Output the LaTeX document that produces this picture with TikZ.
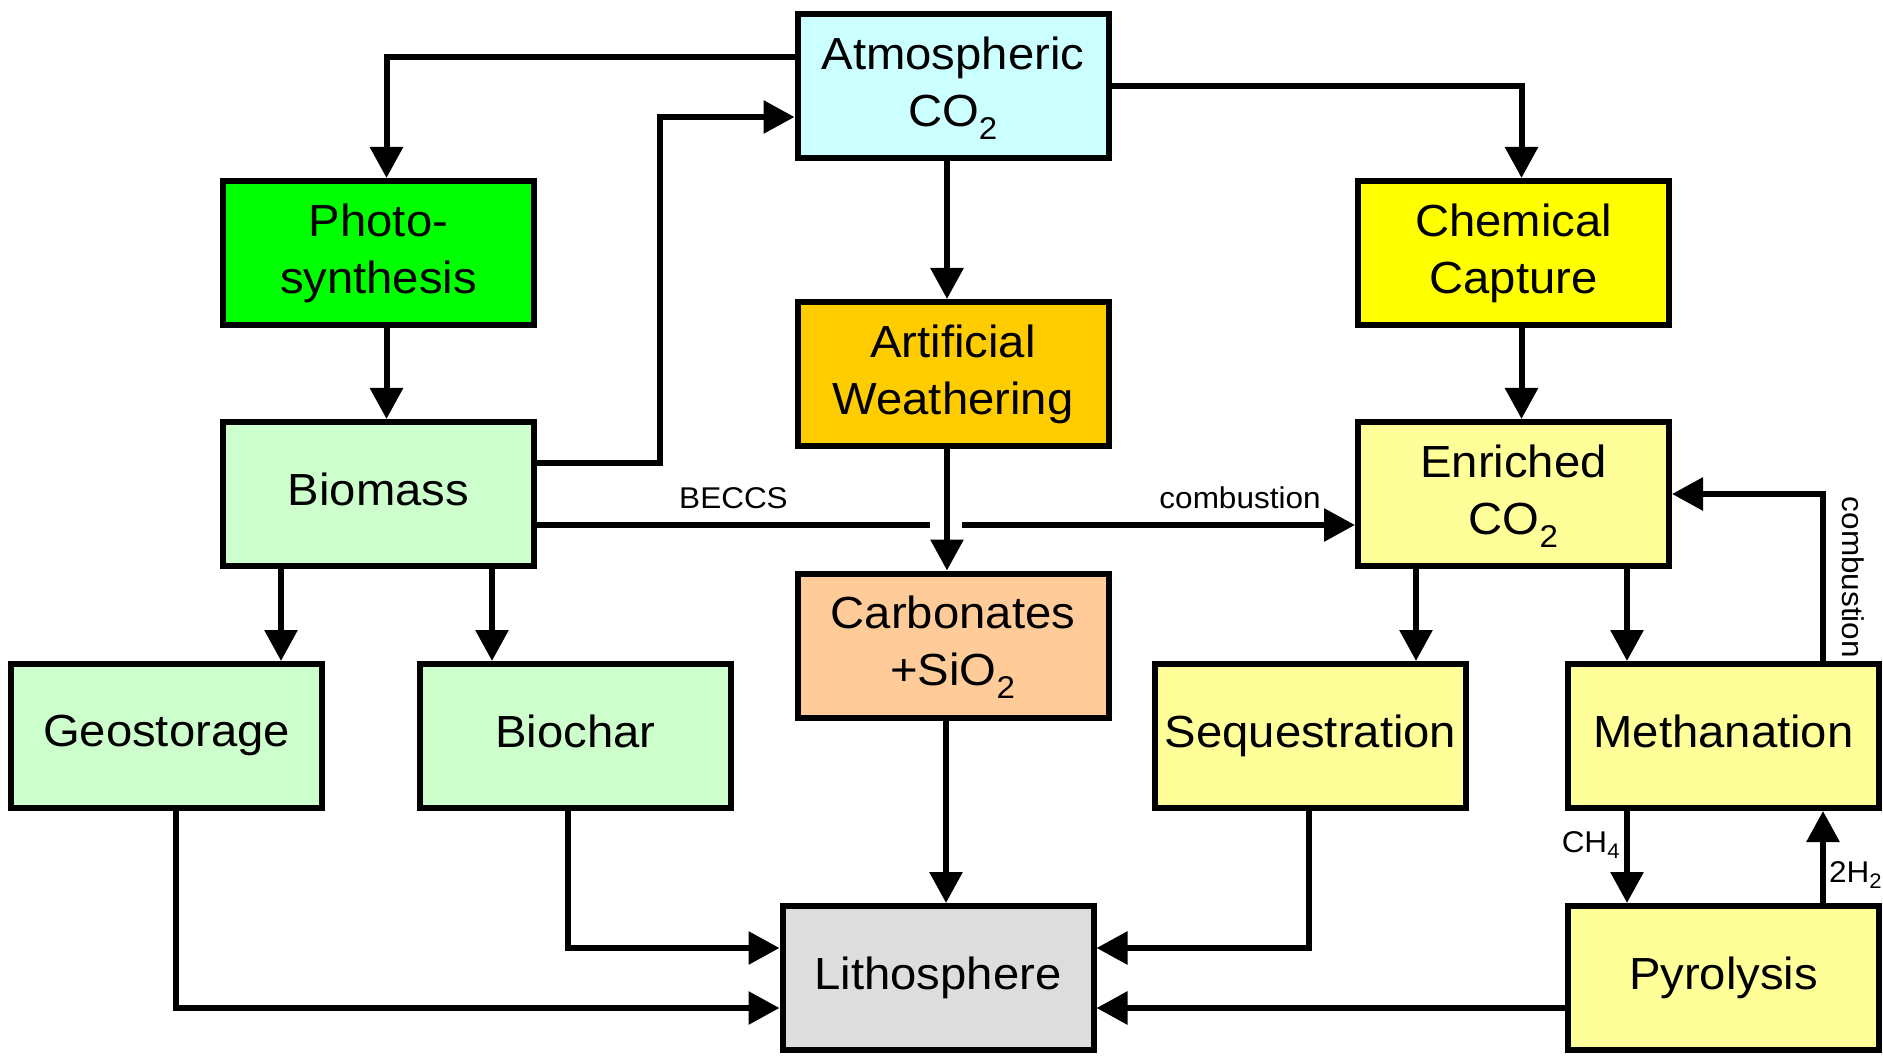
\documentclass[tikz,border=0pt]{standalone}
\usepackage{fontspec}
\setmainfont[FakeStretch=1.05]{Liberation Sans}
\usetikzlibrary{positioning, arrows.meta, calc}
\definecolor{atmcyan}{HTML}{CCFFFF}
\definecolor{photogreen}{HTML}{00FF00}
\definecolor{chemyellow}{HTML}{FFFF00}
\definecolor{weathorange}{HTML}{FFCC00}
\definecolor{biogreen}{HTML}{CCFFCC}
\definecolor{paleyellow}{HTML}{FFFF99}
\definecolor{carbpeach}{HTML}{FFCC99}
\definecolor{lithogray}{HTML}{DDDDDD}

\begin{document}
\begin{tikzpicture}[
    x=1pt, y=-1pt,
    box/.style={
        draw, rectangle, line width=6pt,
        minimum width=311pt, minimum height=144pt,
        inner sep=2pt, align=center, text depth=9.5pt,
        font=\fontsize{45pt}{57pt}\selectfont
    },
    smalltext/.style={font=\fontsize{30pt}{36pt}\selectfont, inner sep=0pt},
    link/.style={line width=6pt},
    arrow/.style={-{Triangle[length=31pt, width=32pt]}, line width=6pt},
]
\useasboundingbox (0,0) rectangle (1883,1056);

% boxes
\node[box, fill=atmcyan] (atm) at (953,86) {Atmospheric\\CO\textsubscript{2}};
\node[box, fill=photogreen] (photo) at (378.5,253) {Photo-\\synthesis};
\node[box, fill=chemyellow] (chem) at (1513.5,253) {Chemical\\Capture};
\node[box, fill=weathorange] (weath) at (953,374) {Artificial\\Weathering};
\node[box, fill=biogreen] (biomass) at (378.5,494) {Biomass};
\node[box, fill=paleyellow] (enriched) at (1513.5,494) {Enriched\\CO\textsubscript{2}};
\node[box, fill=carbpeach] (carb) at (953,645.5) {Carbonates\\+SiO\textsubscript{2}};
\node[box, fill=biogreen] (geo) at (166.5,736) {Geostorage};
\node[box, fill=biogreen] (biochar) at (575.5,736) {Biochar};
\node[box, fill=paleyellow] (seq) at (1310.5,736) {Sequestration};
\node[box, fill=paleyellow] (meth) at (1723.5,736) {Methanation};
\node[box, fill=lithogray] (litho) at (938,978) {Lithosphere};
\node[box, fill=paleyellow] (pyro) at (1723.5,978) {Pyrolysis};

\coordinate (gapL) at (930,525);
\coordinate (gapR) at (962,525);

% upper part
\draw[arrow] ($(atm.west)+(0,-29)$) -| ($(photo.north)+(8,0)$);
\draw[arrow] ($(biomass.east)+(0,-31)$) -- ++(123,0) |- ($(atm.west)+(0,31)$);
\draw[arrow] (atm.east) -| ($(chem.north)+(8,0)$);
\draw[arrow] ($(atm.south)+(-6,0)$) -- ($(weath.north)+(-6,0)$);
\draw[arrow] ($(photo.south)+(8,0)$) -- ($(biomass.north)+(8,0)$);
\draw[arrow] ($(chem.south)+(8,0)$) -- ($(enriched.north)+(8,0)$);
\draw[arrow] ($(weath.south)+(-6,0)$) -- ($(carb.north)+(-6,0)$);

% BECCS line, broken where it crosses
\draw[link] ($(biomass.east)+(0,31)$) -- node[smalltext, anchor=base, yshift=17pt] (beccs) {BECCS} (gapL);
\draw[arrow] (gapR) -- node[smalltext, pos=0.92, anchor=base east, yshift=17pt] (comb1) {combustion} ($(enriched.west)+(0,31)$);

\draw[arrow] ($(biomass.south)+(-97.5,0)$) -- ($(geo.north)+(114.5,0)$);
\draw[arrow] ($(biomass.south)+(113.5,0)$) -- ($(biochar.north)+(-83.5,0)$);
\draw[arrow] ($(enriched.south)+(-97.5,0)$) -- ($(seq.north)+(105.5,0)$);
\draw[arrow] ($(enriched.south)+(113.5,0)$) -- ($(meth.north)+(-96.5,0)$);
\draw[arrow] ($(meth.north)+(99.5,0)$) |- node[smalltext, pos=0.25, anchor=south, rotate=-90, inner ysep=16pt] (comb2) {combustion} (enriched.east);

% methanation / pyrolysis loop
\draw[arrow] ($(meth.south)+(-96.5,0)$) -- node[smalltext, pos=0.37, anchor=east, inner sep=4pt] (ch4) {CH\textsubscript{4}} ($(pyro.north)+(-96.5,0)$);
\draw[arrow] ($(pyro.north)+(99.5,0)$) -- node[smalltext, pos=0.3, anchor=west, inner sep=3pt] (h2) {2H\textsubscript{2}} ($(meth.south)+(99.5,0)$);

% into the lithosphere
\draw[arrow] ($(carb.south)+(-7,0)$) -- ($(litho.north)+(8,0)$);
\draw[arrow] ($(geo.south)+(9.5,0)$) |- ($(litho.west)+(0,30)$);
\draw[arrow] ($(biochar.south)+(-7.5,0)$) |- ($(litho.west)+(0,-30)$);
\draw[arrow] ($(seq.south)+(-2,0)$) |- ($(litho.east)+(0,-30)$);
\draw[arrow] ($(pyro.west)+(0,30)$) -- ($(litho.east)+(0,30)$);
\end{tikzpicture}
\end{document}
